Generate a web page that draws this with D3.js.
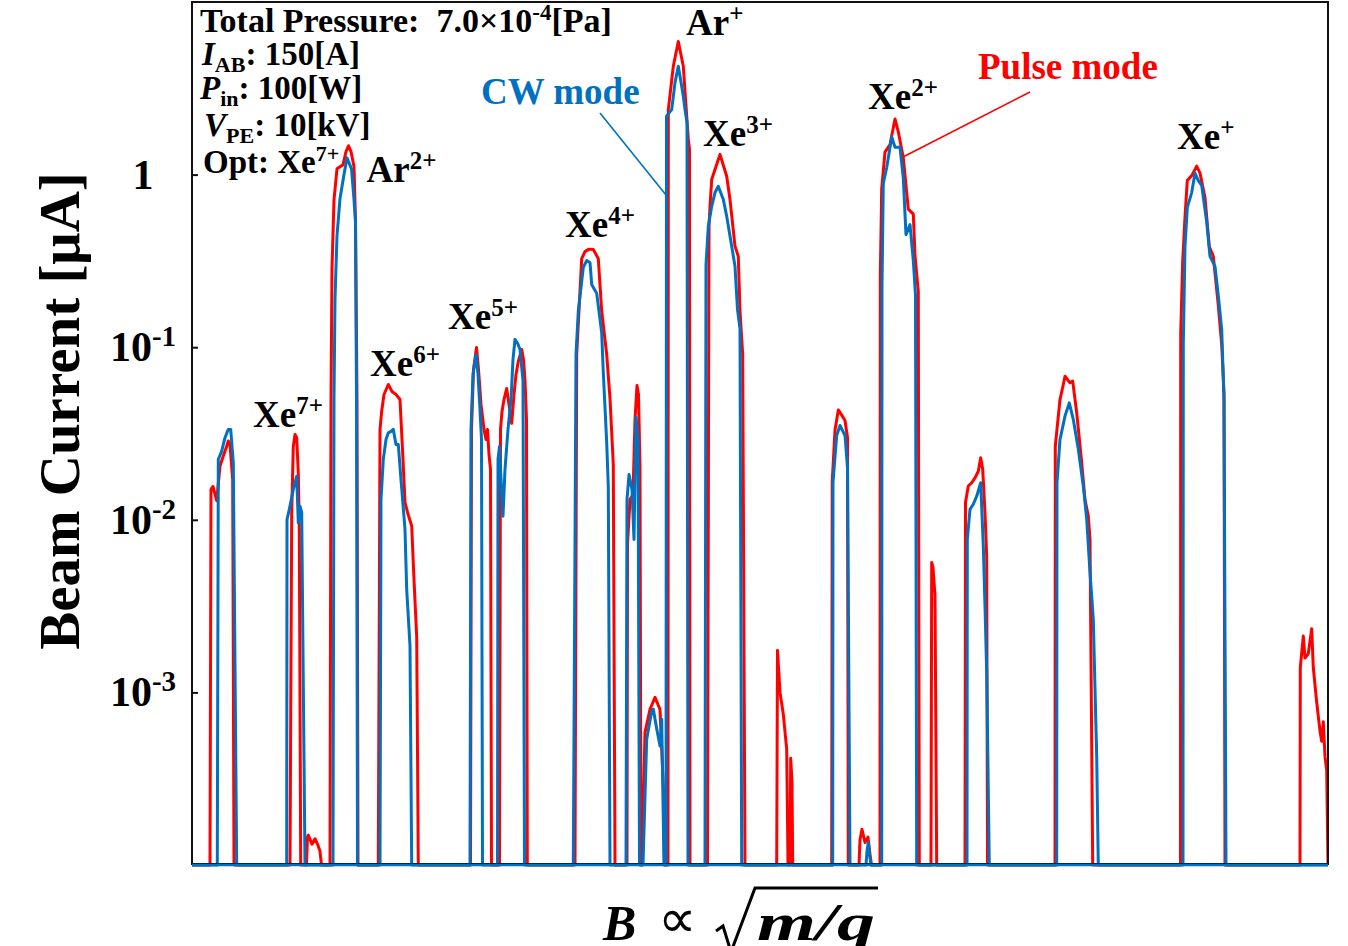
<!DOCTYPE html>
<html>
<head>
<meta charset="utf-8">
<script src="https://cdn.jsdelivr.net/npm/d3@7"></script>
<style>
  body { margin: 0; background: #fff; }
  text { font-family: "Liberation Serif", "Times New Roman", serif; font-weight: bold; fill: #000; white-space: pre; }
</style>
</head>
<body>
<div id="chart"></div>
<script>
// Beam current vs. B (arb. units), log y axis. 0 = below detection, drawn on the floor.

// Pulse mode trace [B, I(uA)]
var pulse = [
  [0,0],
  [1.8,0],[1.9,0.0150],[2.1,0.0156],[2.47,0.0129],[2.8,0.0205],[3.13,0.0234],[3.47,0.0267],[3.63,0.0286],[3.8,0.0273],[4.07,0.0171],[4.2,0],
  [9.8,0],[9.97,0.0110],[10.13,0.0267],[10.3,0.0312],[10.47,0.0299],[10.63,0.0187],[10.73,0.0088],[10.87,0],
  [11.45,0],[11.55,0.000145],[11.63,0.000149],[12.0,0.000132],[12.3,0.000142],[12.6,0.000130],[12.8,0.000120],[12.95,0],
  [13.8,0],[13.9,0.0498],[14.0,0.286],[14.2,0.717],[14.5,1.08],[15.1,1.14],[15.4,1.36],[15.65,1.47],[15.9,1.36],[16.2,1.11],[16.35,0.534],[16.5,0.0498],[16.6,0],
  [18.63,0],[18.8,0.0334],[18.97,0.0426],[19.2,0.0532],[19.63,0.0608],[20.0,0.0554],[20.4,0.0532],[20.8,0.0498],[21.1,0.0224],[21.3,0.0126],[21.6,0.0108],[21.97,0.0092],[22.2,0.0045],[22.47,0.0021],[22.63,0],
  [27.85,0],[27.95,0.0334],[28.15,0.0743],[28.45,0.0996],[28.65,0.0743],[28.9,0.0466],[29.2,0.0334],[29.4,0.0292],[29.55,0.0334],[29.7,0.0239],[29.85,0.0196],[29.95,0],
  [30.75,0],[30.85,0.0334],[31.0,0.0424],[31.2,0.0498],[31.47,0.0577],[31.7,0.0466],[31.97,0.0362],[32.2,0.0532],[32.4,0.0695],[32.63,0.0827],[32.97,0.0970],[33.15,0.0849],[33.3,0.0641],[33.45,0.0382],[33.53,0],
  [38.3,0],[38.47,0.0907],[38.97,0.326],[39.3,0.358],[39.7,0.370],[40.13,0.368],[40.63,0.326],[40.97,0.162],[41.47,0.0907],[41.8,0.0505],[42.13,0.0209],[42.3,0],
  [43.5,0],[43.55,0.0072],[43.8,0.0131],[44.1,0.0140],[44.3,0.0381],[44.5,0.0600],[44.65,0.0532],[44.8,0.0200],[44.9,0],
  [45.0,0],[45.3,0.000588],[45.8,0.000798],[46.3,0.000937],[46.8,0.000798],[47.13,0.000286],[47.25,0],
  [47.6,0],[47.63,2.38],[48.13,4.24],[48.63,5.91],[49.13,4.24],[49.63,1.60],[49.75,1.40],[49.8,0],
  [51.55,0],[51.7,0.50],[51.8,0.655],[51.97,0.936],[52.3,1.07],[52.8,1.31],[53.47,0.978],[53.8,0.717],[54.3,0.385],[54.63,0.336],[54.8,0.162],[55.07,0.0907],[55.3,0],
  [58.47,0],[58.55,0.00175],[58.8,0.00100],[59.13,0.000747],[59.47,0.000469],[59.6,0],
  [59.8,0],[59.87,0.000415],[60.0,0.000300],[60.07,0],
  [63.97,0],[64.02,0.0165],[64.3,0.0330],[64.63,0.0433],[64.97,0.0404],[65.3,0.0376],[65.55,0.0300],[65.63,0],
  [66.7,0],[66.8,0.000140],[67.0,0.000161],[67.3,0.000135],[67.6,0.000145],[67.8,0.000115],[67.95,0],
  [68.8,0],[68.83,0.258],[68.97,0.830],[69.3,1.35],[69.8,1.49],[70.3,2.10],[70.63,1.77],[71.13,1.25],[71.63,0.631],[72.13,0.590],[72.3,0.340],[72.63,0.210],[72.73,0],
  [73.9,0],[73.97,0.00566],[74.1,0.00530],[74.3,0.00365],[74.47,0],
  [77.3,0],[77.35,0.0126],[77.63,0.0157],[77.97,0.0164],[78.3,0.0175],[78.63,0.0191],[78.87,0.0229],[79.07,0.0196],[79.3,0.0110],[79.47,0.00616],[79.55,0],
  [86.3,0],[86.33,0.0267],[86.8,0.0498],[87.13,0.0608],[87.3,0.0679],[87.8,0.0622],[88.07,0.0636],[88.47,0.0417],[88.97,0.0214],[89.3,0.0131],[89.63,0.0105],[89.8,0.0077],[90.07,0],
  [98.85,0],[98.87,0.119],[99.07,0.315],[99.3,0.567],[99.53,0.924],[99.97,0.987],[100.47,1.12],[100.8,1.02],[101.3,0.736],[101.73,0.383],[102.13,0.336],[102.63,0.175],[102.97,0.104],[103.2,0.054],[103.3,0],
  [110.8,0],[110.83,0.00139],[111.13,0.00212],[111.3,0.00158],[111.63,0.00168],[111.97,0.00234],[112.13,0.00139],[112.47,0.000877],[112.8,0.000596],[112.97,0.000521],[113.13,0.000676],[113.3,0.000427],[113.47,0.000351],[113.55,0.000161],[113.6,0]
];

// CW mode trace [B, I(uA)]
var cw = [
  [0,0],
  [2.53,0],[2.63,0.0224],[2.97,0.0250],[3.3,0.0299],[3.63,0.0334],[3.87,0.0334],[4.13,0.0214],[4.47,0],
  [9.47,0],[9.5,0.0100],[9.8,0.0120],[10.13,0.0150],[10.47,0.0179],[10.63,0.0096],[10.8,0.0120],[10.97,0.0110],[11.3,0],
  [14.1,0],[14.2,0.0498],[14.3,0.189],[14.5,0.443],[14.8,0.726],[15.2,1.00],[15.5,1.25],[15.7,1.17],[15.95,1.08],[16.2,0.717],[16.35,0.534],[16.45,0.0498],[16.55,0],
  [18.8,0],[18.9,0.0131],[19.13,0.0224],[19.4,0.0292],[19.63,0.0319],[19.9,0.0325],[20.13,0.0334],[20.4,0.0273],[20.63,0.0273],[20.9,0.0171],[21.3,0.0088],[21.47,0.00395],[21.8,0.00186],[21.97,0],
  [27.8,0],[27.9,0.0334],[28.1,0.0695],[28.4,0.0907],[28.6,0.0695],[28.8,0.0436],[28.95,0.0292],[29.05,0],
  [30.55,0],[30.6,0.0224],[30.75,0.0266],[30.95,0.0150],[31.1,0.0105],[31.3,0.0196],[31.6,0.0334],[31.9,0.0498],[32.1,0.0849],[32.3,0.111],[32.6,0.104],[32.8,0.097],[33.1,0.0641],[33.25,0],
  [38.13,0],[38.4,0.0907],[38.63,0.162],[39.13,0.290],[39.47,0.318],[39.8,0.309],[39.97,0.231],[40.47,0.205],[40.97,0.121],[41.13,0.0714],[41.47,0.0281],[41.63,0.0156],[41.8,0],
  [43.4,0],[43.5,0.0131],[43.7,0.0183],[44.0,0.0150],[44.2,0.0077],[44.4,0.0392],[44.6,0.0292],[44.75,0],
  [45.1,0],[45.47,0.000535],[45.97,0.00078],[46.13,0.00080],[46.47,0.000616],[46.8,0.00049],[46.97,0.000699],[47.2,0],
  [47.4,0],[47.45,2.18],[47.97,2.38],[48.3,3.41],[48.63,4.24],[48.97,3.25],[49.13,2.84],[49.3,2.38],[49.5,2.0],[49.6,0],
  [51.3,0],[51.4,0.30],[51.63,0.502],[51.97,0.655],[52.3,0.787],[52.63,0.856],[53.13,0.717],[53.47,0.574],[53.97,0.385],[54.3,0.294],[54.55,0.165],[54.8,0.128],[54.97,0],
  [64.07,0],[64.1,0.0165],[64.47,0.0308],[64.8,0.0352],[65.3,0.0308],[65.55,0.0200],[65.8,0],
  [67.4,0],[67.5,0.000120],[67.63,0.000135],[67.8,0.000110],[67.9,0],
  [68.97,0],[69.0,0.225],[69.13,0.890],[69.47,1.10],[69.97,1.65],[70.3,1.44],[70.8,1.44],[71.13,0.953],[71.4,0.449],[71.8,0.513],[72.13,0.318],[72.35,0.200],[72.47,0],
  [77.5,0],[77.53,0.0077],[77.8,0.0115],[78.13,0.0123],[78.47,0.0137],[78.87,0.0164],[79.13,0.00705],[79.3,0.00316],[79.47,0.00131],[79.73,0],
  [86.47,0],[86.5,0.0164],[86.8,0.0292],[87.3,0.0399],[87.73,0.0476],[88.13,0.0381],[88.63,0.0256],[89.13,0.0157],[89.47,0.0101],[89.8,0.00496],[90.13,0.00265],[90.47,0.000428],[90.63,0],
  [99.1,0],[99.13,0.104],[99.3,0.383],[99.53,0.646],[99.97,0.787],[100.3,1.02],[100.63,0.923],[100.97,0.866],[101.47,0.531],[101.8,0.336],[102.3,0.294],[102.63,0.199],[102.97,0.127],[103.2,0.050],[103.4,0],
  [113.6,0]
];

// y ticks
var yTicks = [1, 0.1, 0.01, 0.001];
var yTickExp = ["", "-1", "-2", "-3"];

// peak labels: ion, charge, B, I at baseline of label
var peakIon    = ["Xe", "Ar", "Xe", "Xe", "Xe", "Ar", "Xe", "Xe", "Xe"];
var peakCharge = ["7+", "2+", "6+", "5+", "4+", "+", "3+", "2+", "+"];
var peakB      = [6.1, 17.45, 17.8, 25.6, 37.3, 49.4, 51.1, 67.6, 98.5];
var peakI      = [0.0345, 0.906, 0.0681, 0.1274, 0.435, 6.44, 1.465, 2.40, 1.407];

var width = 1348;
var height = 946;

var svg = d3.select("#chart")
  .append("svg")
  .attr("width", width)
  .attr("height", height);

var x = d3.scaleLinear().domain([0, 113.6]).range([192, 1328]);
var y = d3.scaleLog().domain([1e-4, 10]).range([865, 2]);

var floorI = 1e-4;
var line = d3.line()
  .x(function(d) { return x(d[0]); })
  .y(function(d) { return y(Math.max(d[1], floorI)); });

svg.append("clipPath").attr("id", "plotclip")
  .append("rect").attr("x", 192).attr("y", 0).attr("width", 1137).attr("height", 870);

var plot = svg.append("g").attr("clip-path", "url(#plotclip)");

plot.append("path")
  .datum(pulse)
  .attr("d", line)
  .attr("fill", "none")
  .attr("stroke", "#ff0000")
  .attr("stroke-width", 3)
  .attr("stroke-linejoin", "round");

plot.append("path")
  .datum(cw)
  .attr("d", line)
  .attr("fill", "none")
  .attr("stroke", "#0070c0")
  .attr("stroke-width", 3)
  .attr("stroke-linejoin", "round");

// frame
svg.append("rect")
  .attr("x", 192).attr("y", 2)
  .attr("width", 1136).attr("height", 862)
  .attr("fill", "none")
  .attr("stroke", "#111")
  .attr("stroke-width", 2);

// redraw blue floor on top of frame bottom
svg.append("line")
  .attr("x1", 192).attr("x2", 1328)
  .attr("y1", y(floorI)).attr("y2", y(floorI))
  .attr("stroke", "#0070c0").attr("stroke-width", 2.5);

// y axis ticks, inward
var yAxis = d3.axisLeft(y).tickValues(yTicks).tickSize(-6).tickFormat("");
var gy = svg.append("g").attr("transform", "translate(192,0)").call(yAxis);
gy.select(".domain").remove();
gy.selectAll(".tick line").attr("stroke", "#111").attr("stroke-width", 2);

// text with sub / superscripts
function richText(g, parts, size) {
  var t = g.append("text").attr("font-size", size);
  var shift = 0;
  parts.forEach(function(p) {
    var target = p.sup ? -0.36 * size : (p.sub ? 0.2 * size : 0);
    t.append("tspan")
      .attr("dy", target - shift)
      .attr("font-size", (p.sup || p.sub) ? Math.round(size * 0.68) : size)
      .attr("font-style", p.it ? "italic" : null)
      .text(p.t);
    shift = target;
  });
  return t;
}

yTicks.forEach(function(v, i) {
  var parts = [{t: i == 0 ? "1" : "10"}];
  if (yTickExp[i]) parts.push({t: yTickExp[i], sup: true});
  richText(svg, parts, 42)
    .attr("x", 143)
    .attr("y", y(v) + 14)
    .attr("text-anchor", "middle");
});

// y title
svg.append("text")
  .attr("transform", "translate(79,411) rotate(-90)")
  .attr("text-anchor", "middle")
  .attr("font-size", 57)
  .text("Beam Current [\u03bcA]");

// x title
svg.append("text")
  .attr("x", 603).attr("y", 940)
  .attr("font-size", 50)
  .attr("font-style", "italic")
  .text("B");
svg.append("text")
  .attr("x", 677).attr("y", 937)
  .attr("font-size", 54)
  .attr("text-anchor", "middle")
  .style("font-weight", "normal")
  .text("\u221d");
svg.append("text")
  .attr("x", 757).attr("y", 940)
  .attr("font-size", 52)
  .attr("font-style", "italic")
  .attr("textLength", 118)
  .attr("lengthAdjust", "spacingAndGlyphs")
  .text("m/q");
svg.append("path")
  .attr("d", "M716,931 L723,926 L731,952 L755,888 L878,888")
  .attr("fill", "none")
  .attr("stroke", "#000")
  .attr("stroke-width", 3);

// peak labels
peakIon.forEach(function(ion, i) {
  richText(svg, [{t: ion}, {t: peakCharge[i], sup: true}], 37)
    .attr("x", x(peakB[i]))
    .attr("y", y(peakI[i]));
});

// conditions block
var cond = [
  [{t: "Total Pressure:  7.0\u00d710"}, {t: "-4", sup: true}, {t: "[Pa]"}],
  [{t: "I", it: true}, {t: "AB", sub: true}, {t: ": 150[A]"}],
  [{t: "P", it: true}, {t: "in", sub: true}, {t: ": 100[W]"}],
  [{t: "V", it: true}, {t: "PE", sub: true}, {t: ": 10[kV]"}],
  [{t: "Opt: Xe"}, {t: "7+", sup: true}]
];
var condX = [200, 202, 200, 204, 203];
var condY = [32, 65, 99, 136, 173];
var condSize = [34, 33, 33, 33, 33];
cond.forEach(function(parts, i) {
  richText(svg, parts, condSize[i]).attr("x", condX[i]).attr("y", condY[i]);
});

// mode labels and leaders
svg.append("text")
  .attr("x", x(28.9)).attr("y", y(2.56))
  .attr("font-size", 37)
  .style("fill", "#0070c0")
  .text("CW mode");
svg.append("line")
  .attr("x1", x(40.8)).attr("y1", y(2.275))
  .attr("x2", x(47.5)).attr("y2", y(0.75))
  .attr("stroke", "#0070c0").attr("stroke-width", 1.6);

svg.append("text")
  .attr("x", x(78.6)).attr("y", y(3.58))
  .attr("font-size", 37)
  .style("fill", "#ff0000")
  .text("Pulse mode");
svg.append("line")
  .attr("x1", x(83.8)).attr("y1", y(3.01))
  .attr("x2", x(71.1)).attr("y2", y(1.265))
  .attr("stroke", "#ff0000").attr("stroke-width", 1.6);
</script>
</body>
</html>
